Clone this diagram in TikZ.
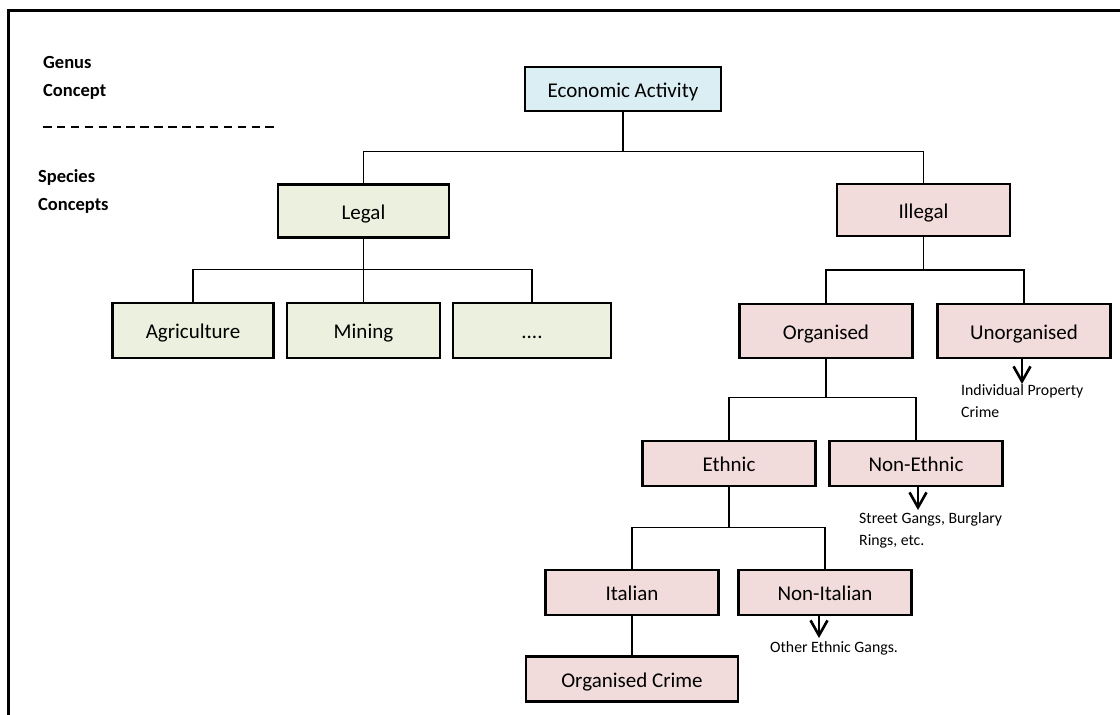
\documentclass[tikz,border=0pt]{standalone}
\usepackage{fontspec}
\setmainfont{Carlito}
\usepackage{xcolor}
\usepackage{tikz}
\usetikzlibrary{arrows.meta}
\definecolor{genusfill}{HTML}{DBEEF4}
\definecolor{legalfill}{HTML}{EBF1DE}
\definecolor{illegalfill}{HTML}{F2DCDB}
\tikzstyle{nodebox} = [rectangle, draw=black, line width=2.6pt, text centered, inner sep=0pt, text height=16pt, text depth=0pt, font=\fontsize{21}{25}\selectfont]
\tikzstyle{genus} = [nodebox, fill=genusfill]
\tikzstyle{legalbox} = [nodebox, fill=legalfill, minimum height=53pt]
\tikzstyle{illegalbox} = [nodebox, fill=illegalfill, minimum width=173pt, minimum height=45pt]
\tikzstyle{line} = [draw, line width=1.5pt]
\tikzstyle{arrow} = [line width=2.6pt, -{Straight Barb[length=15pt,width=17pt]}]
\tikzstyle{remark} = [anchor=north west, inner sep=0pt, align=left, font=\fontsize{15.8}{22.5}\selectfont]
\tikzstyle{sidetext} = [anchor=north west, inner sep=0pt, align=left, font=\bfseries\fontsize{18.5}{28}\selectfont]

\begin{document}
\begin{tikzpicture}[x=1pt, y=-1pt]
   \useasboundingbox (0,0) rectangle (1120,715);
   % frame
   \draw [line width=2.7pt] (8.5,715) -- (8.5,10.5) -- (1120,10.5);
   % concept levels
   \node (genus) [sidetext] at (43,56) {Genus\\Concept};
   \draw [line width=1.8pt, dash pattern=on 8.5pt off 5.4pt] (43,127) -- (274,127);
   \node (species) [sidetext] at (38,169) {Species\\Concepts};
   % boxes
   \node (econ) [genus, minimum width=196pt, minimum height=44pt] at (623,89) {Economic Activity};
   \node (legal) [legalbox, minimum width=171pt] at (363.5,211) {Legal};
   \node (illegal) [illegalbox, minimum height=52pt] at (923.5,210) {Illegal};
   \node (agri) [legalbox, minimum width=161pt, minimum height=55pt] at (193,330.5) {Agriculture};
   \node (mining) [legalbox, minimum width=153pt, minimum height=55pt] at (363.5,330.5) {Mining};
   \node (more) [legalbox, minimum width=158pt, minimum height=55pt] at (532,330.5) {....};
   \node (org) [illegalbox, minimum height=54pt] at (826,331) {Organised};
   \node (unorg) [illegalbox, minimum height=54pt] at (1024,331) {Unorganised};
   \node (ethnic) [illegalbox] at (729,463.5) {Ethnic};
   \node (nonethnic) [illegalbox] at (916,463.5) {Non-Ethnic};
   \node (italian) [illegalbox] at (632,592.5) {Italian};
   \node (nonitalian) [illegalbox] at (825,592.5) {Non-Italian};
   \node (crime) [illegalbox, minimum width=212pt] at (632,679) {Organised Crime};
   % tree connectors
   \coordinate (econbus) at (623,151.5);
   \coordinate (legalbus) at (363.5,269.5);
   \coordinate (illegalbus) at (923.5,270);
   \coordinate (orgbus) at (826,397.5);
   \coordinate (ethnicbus) at (729,527.5);
   \path [line] (econ) -- (econbus) -| (legal);
   \path [line] (econbus) -| (illegal);
   \path [line] (legal) -- (legalbus) -| (agri);
   \path [line] (legalbus) -- (mining);
   \path [line] (legalbus) -| (more);
   \path [line] (illegal) -- (illegalbus) -| (org);
   \path [line] (illegalbus) -| (unorg);
   \path [line] (org) -- (orgbus) -| (ethnic);
   \path [line] (orgbus) -| (nonethnic);
   \path [line] (ethnic) -- (ethnicbus) -| (italian);
   \path [line] (ethnicbus) -| (nonitalian);
   \path [line] (italian) -- (crime);
   % outcomes
   \coordinate (tipunorg) at (1022,384);
   \coordinate (tipnonethnic) at (918,510);
   \coordinate (tipnonitalian) at (819,638);
   \draw [arrow] (unorg.south -| tipunorg) -- (tipunorg);
   \draw [arrow] (nonethnic.south -| tipnonethnic) -- (tipnonethnic);
   \draw [arrow] (nonitalian.south -| tipnonitalian) -- (tipnonitalian);
   \node (property) [remark] at (961,384) {Individual Property\\Crime};
   \node (gangs) [remark] at (859,512) {Street Gangs, Burglary\\Rings, etc.};
   \node (others) [remark] at (770,641) {Other Ethnic Gangs.};
\end{tikzpicture}
\end{document}
